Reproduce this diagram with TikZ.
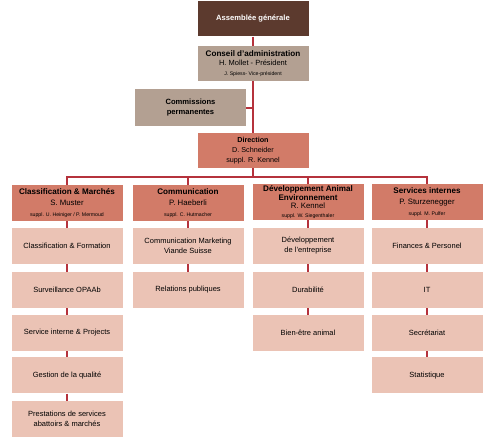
\documentclass[tikz,border=0pt]{standalone}
\usepackage{fontspec}
\setmainfont{Liberation Sans}
\definecolor{topc}{HTML}{5C3A2E}
\definecolor{grayc}{HTML}{B3A092}
\definecolor{midc}{HTML}{D27B68}
\definecolor{lightc}{HTML}{EBC3B5}
\definecolor{linec}{HTML}{B5323C}
\newcommand{\smallsz}{\fontsize{5.2}{6.5}\selectfont}
\newcommand{\titlesz}{\fontsize{8.1}{10.5}\selectfont\bfseries}
\begin{document}
\begin{tikzpicture}[x=1pt,y=-1pt,
  box/.style={rectangle, inner sep=1pt, align=center, minimum width=111pt, minimum height=36pt, font=\fontsize{7.5}{10}\selectfont},
  topbox/.style={box, fill=topc, text=white, font=\bfseries\fontsize{7.6}{9}\selectfont, minimum height=35pt},
  graybox/.style={box, fill=grayc, text=black},
  midbox/.style={box, fill=midc, text=black},
  leaf/.style={box, fill=lightc, text=black},
  link/.style={draw=linec, line width=1.7pt}]
\useasboundingbox (0,0) rectangle (493,443);
% top hierarchy
\node[topbox] (ag) at (253,19) {Assemblée générale};
\node[graybox, minimum height=35pt, font=\fontsize{7.5}{9.5}\selectfont] (cons) at (253,63.5) {{\titlesz Conseil d'administration}\\H. Mollet - Président\\{\smallsz J. Spiess- Vice-président}};
\node[graybox, minimum height=37pt, font=\bfseries\fontsize{7.6}{10}\selectfont] (comm) at (190.5,108) {Commissions\\permanentes};
\node[midbox, minimum height=35pt, font=\fontsize{7.2}{10}\selectfont] (dir) at (253,150.5) {\textbf{Direction}\\D. Schneider\\suppl. R. Kennel};
% departments
\node[midbox, font=\fontsize{7.8}{10.8}\selectfont] (c1) at (67,203) {{\titlesz Classification \& Marchés}\\S. Muster\\{\smallsz suppl. U. Heiniger / P. Mermoud}};
\node[midbox, font=\fontsize{7.8}{10.8}\selectfont] (c2) at (188,203) {{\titlesz Communication}\\P. Haeberli\\{\smallsz suppl. C. Hutmacher}};
\node[midbox, font=\fontsize{7.8}{8.5}\selectfont] (c3) at (308,202) {{\titlesz Développement Animal}\\{\titlesz Environnement}\\R. Kennel\\{\smallsz suppl. W. Siegenthaler}};
\node[midbox, font=\fontsize{7.8}{10.8}\selectfont] (c4) at (427,202) {{\titlesz Services internes}\\P. Sturzenegger\\{\smallsz suppl. M. Pulfer}};
% column 1
\node[leaf] (a1) at (67,246) {Classification \& Formation};
\node[leaf] (a2) at (67,290) {Surveillance OPAAb};
\node[leaf] (a3) at (67,333) {Service interne \& Projects};
\node[leaf] (a4) at (67,375.5) {Gestion de la qualité};
\node[leaf] (a5) at (67,419) {Prestations de services\\abattoirs \& marchés};
% column 2
\node[leaf] (b1) at (188,246) {Communication Marketing\\Viande Suisse};
\node[leaf] (b2) at (188,290) {Relations publiques};
% column 3
\node[leaf] (d1) at (308,246) {Développement\\de l'entreprise};
\node[leaf] (d2) at (308,290) {Durabilité};
\node[leaf] (d3) at (308,333) {Bien-être animal};
% column 4
\node[leaf] (e1) at (427,246) {Finances \& Personel};
\node[leaf] (e2) at (427,290) {IT};
\node[leaf] (e3) at (427,333) {Secrétariat};
\node[leaf] (e4) at (427,375.5) {Statistique};
% connectors
\coordinate (bus) at (253,177);
\draw[link] (ag) -- (cons);
\draw[link] (cons) -- (dir);
\draw[link] (comm.east) -- (comm.east -| cons.south);
\draw[link] (dir.south) -- (bus);
\draw[link] (c1.north) |- (bus) -| (c4.north);
\draw[link] (c2.north) -- (c2.north |- bus);
\draw[link] (c3.north) -- (c3.north |- bus);
\foreach \u/\v in {c1/a1,a1/a2,a2/a3,a3/a4,a4/a5,c2/b1,b1/b2,c3/d1,d1/d2,d2/d3,c4/e1,e1/e2,e2/e3,e3/e4}
  \draw[link] (\u) -- (\v);
\end{tikzpicture}
\end{document}
